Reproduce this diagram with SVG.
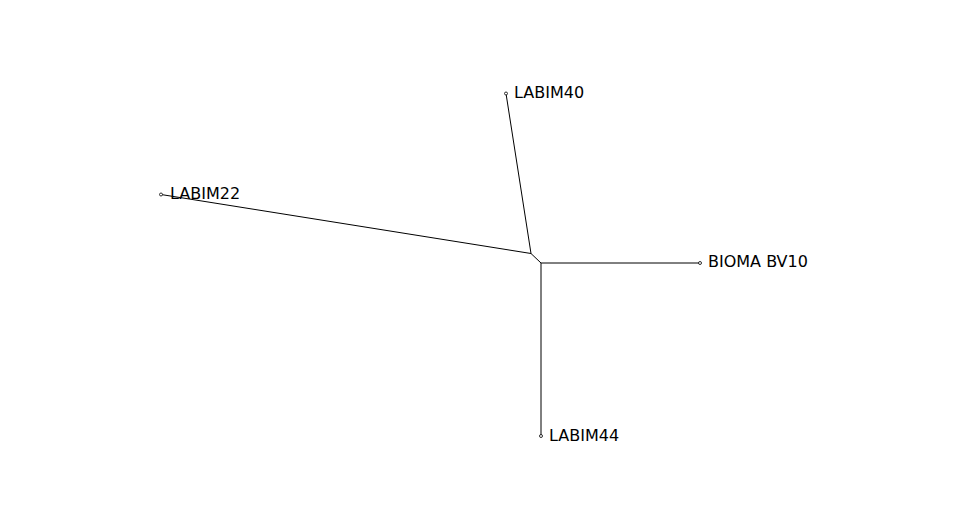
<svg xmlns="http://www.w3.org/2000/svg" width="970" height="528" viewBox="0 0 970 528">
<style>
.e{stroke:#000;stroke-width:1;fill:none}
.tip{fill:#fff;stroke:#000;stroke-width:0.8}
.lbl{font-family:"DejaVu Sans",sans-serif;font-size:16px;fill:#000}
</style>
<rect width="970" height="528" fill="#fff"/>
<g id="connectors">
<line class="e" x1="531" y1="253.5" x2="506" y2="93.5"/>
<line class="e" x1="531" y1="253.5" x2="161" y2="194.5"/>
<line class="e" x1="531" y1="253.5" x2="541" y2="263"/>
<line class="e" x1="541" y1="263" x2="700" y2="263"/>
<line class="e" x1="541" y1="263" x2="541" y2="436"/>
</g>
<g id="LABIM40"><circle class="tip" cx="506" cy="93.5" r="1.5"/><text class="lbl" x="514" y="98">LABIM40</text></g>
<g id="LABIM22"><circle class="tip" cx="161" cy="194.5" r="1.5"/><text class="lbl" x="170" y="198.5">LABIM22</text></g>
<g id="BIOMA_BV10"><circle class="tip" cx="700" cy="263" r="1.5"/><text class="lbl" x="708" y="267">BIOMA BV10</text></g>
<g id="LABIM44"><circle class="tip" cx="541" cy="436" r="1.5"/><text class="lbl" x="549" y="441">LABIM44</text></g>
</svg>
